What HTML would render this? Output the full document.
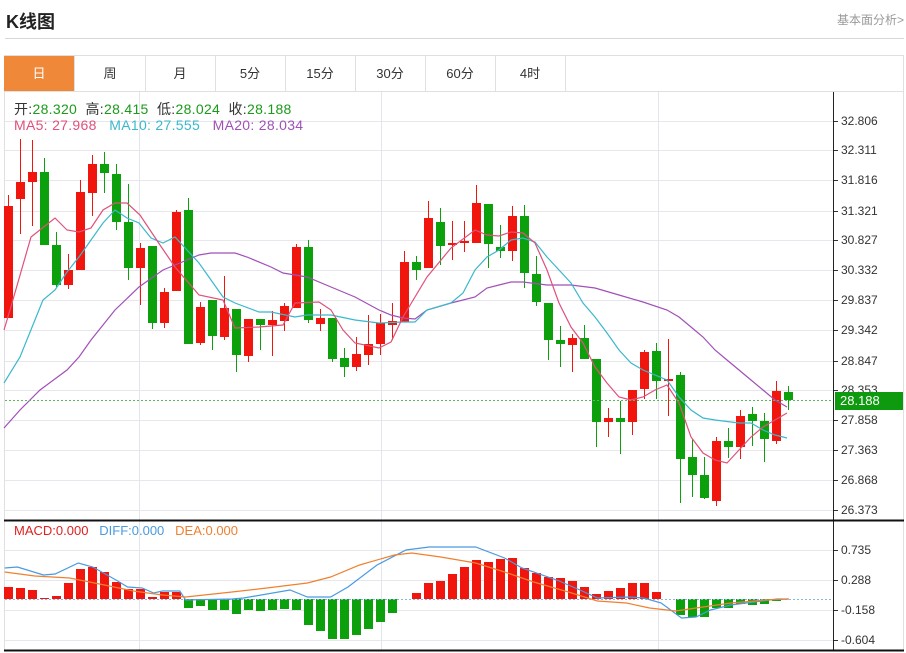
<!DOCTYPE html>
<html><head><meta charset="utf-8"><style>
body{margin:0;width:906px;height:653px;background:#fff;overflow:hidden;font-family:"Liberation Sans","Noto Sans CJK SC",sans-serif;position:relative}
.a{position:absolute;white-space:nowrap}
.tab{position:absolute;top:56px;height:35px;width:70px;line-height:35px;text-align:center;font-size:13px;color:#333;border-right:1px solid #e0e0e0}
.yl{position:absolute;left:841px;font-size:12px;color:#333}
</style></head><body>
<div class="a" style="left:6px;top:8px;font-size:18px;font-weight:bold;color:#222">K线图</div>
<div class="a" style="right:2px;top:11px;font-size:12px;color:#999">基本面分析&gt;</div>
<div class="a" style="left:5px;top:38px;width:899px;height:1px;background:#d8d8d8"></div>
<div class="a" style="left:4px;top:55px;width:900px;height:596px;border:1px solid #e0e0e0;box-sizing:border-box"></div>
<div class="a" style="left:4px;top:91px;width:900px;height:1px;background:#e0e0e0"></div>
<div class="tab" style="left:4px;background:#f0883a;color:#fff">日</div>
<div class="tab" style="left:75px">周</div>
<div class="tab" style="left:145px">月</div>
<div class="tab" style="left:215px">5分</div>
<div class="tab" style="left:285px">15分</div>
<div class="tab" style="left:355px">30分</div>
<div class="tab" style="left:425px">60分</div>
<div class="tab" style="left:495px">4时</div>
<svg id="s" class="a" style="left:0;top:0" width="906" height="653"></svg>
<div class="a" style="left:14px;top:99px;font-size:14px;color:#333;letter-spacing:0.3px">开:<span style="color:#1a9a1a">28.320</span>&nbsp;&nbsp;高:<span style="color:#1a9a1a">28.415</span>&nbsp;&nbsp;低:<span style="color:#1a9a1a">28.024</span>&nbsp;&nbsp;收:<span style="color:#1a9a1a">28.188</span></div>
<div class="a" style="left:14px;top:117px;font-size:14px;letter-spacing:0.3px"><span style="color:#e0507a">MA5: 27.968</span>&nbsp;&nbsp;&nbsp;<span style="color:#3ab8cc">MA10: 27.555</span>&nbsp;&nbsp;&nbsp;<span style="color:#a050b8">MA20: 28.034</span></div>
<div class="a" style="left:14px;top:523px;font-size:13px"><span style="color:#e02020">MACD:0.000</span>&nbsp;&nbsp;&nbsp;<span style="color:#4a9ae0">DIFF:0.000</span>&nbsp;&nbsp;&nbsp;<span style="color:#f08030">DEA:0.000</span></div>
<div class="yl" style="top:114px">32.806</div>
<div class="yl" style="top:143px">32.311</div>
<div class="yl" style="top:173px">31.816</div>
<div class="yl" style="top:204px">31.321</div>
<div class="yl" style="top:233px">30.827</div>
<div class="yl" style="top:263px">30.332</div>
<div class="yl" style="top:293px">29.837</div>
<div class="yl" style="top:323px">29.342</div>
<div class="yl" style="top:354px">28.847</div>
<div class="yl" style="top:383px">28.353</div>
<div class="yl" style="top:413px">27.858</div>
<div class="yl" style="top:443px">27.363</div>
<div class="yl" style="top:473px">26.868</div>
<div class="yl" style="top:503px">26.373</div>
<div class="a" style="left:835px;top:392px;width:68px;height:18px;background:#0e9a0e;color:#fff;font-size:13px;line-height:18px;padding-left:5px;box-sizing:border-box">28.188</div>
<div class="yl" style="top:543px">0.735</div>
<div class="yl" style="top:573px">0.288</div>
<div class="yl" style="top:603px">-0.158</div>
<div class="yl" style="top:633px">-0.604</div>
<script>
var s=document.getElementById('s'),h='';
function L(x1,y1,x2,y2,c,w,d){h+='<line x1="'+x1+'" y1="'+y1+'" x2="'+x2+'" y2="'+y2+'" stroke="'+c+'" stroke-width="'+(w||1)+'"'+(d?' stroke-dasharray="'+d+'"':'')+'/>';}
[121,150,180,211,240,270,300,330,361,390,420,450,480,510,550,580,610,640].forEach(function(y){L(5,y+.5,833,y+.5,'#e6e6ec');L(833,y+.5,838,y+.5,'#333');});
[139.5,381.5,658.5].forEach(function(x){L(x,92,x,651,'#e2e4ee');});
L(833.5,92,833.5,651,'#222');L(4,520.5,904,520.5,'#111',2);L(4,650.5,904,650.5,'#111',2);
var R='#f0160e',G='#0da00d';
var c=[['r',206,318,195,318],['r',182,199,139,234],['r',172,182,140,226],['g',172,245,158,245],['g',245,285,232,287],['r',270,285,254,289],['r',192,270,180,270],['r',164,193,155,216],['g',164,173,152,193],['g',174,222,164,230],['g',222,268,184,280],['r',248,268,243,305],['g',246,323,246,329],['r',292,323,288,328],['r',212,291,210,291],['g',210,344,198,344],['r',307,343,302,345],['g',300,336,300,350],['r',308,337,276,340],['g',309,355,309,372],['r',319,356,319,362],['g',319,325,319,350],['r',320,325,311,356],['r',306,321,303,331],['r',247,308,244,308],['g',247,320,240,323],['r',318,324,309,331],['g',318,359,318,362],['g',358,367,348,377],['r',354,367,337,371],['r',344,355,315,365],['r',323,344,314,355],['r',321,325,303,340],['r',262,322,251,322],['g',262,270,256,280],['r',218,268,201,268],['g',222,246,208,265],['r',243,245,221,260],['r',241,243,221,252],['r',203,243,185,243],['g',204,244,204,268],['g',247,251,225,258],['r',216,251,206,261],['g',216,273,205,288],['g',274,302,256,306],['g',303,340,303,360],['g',340,344,326,367],['r',338,345,334,372],['g',338,359,325,359],['g',359,422,359,447],['r',418,422,408,437],['g',418,422,401,454],['r',390,422,390,435],['r',352,389,350,399],['g',351,381,343,399],['r',379,381,339,416],['g',375,459,372,503],['g',457,475,439,497],['g',475,498,457,499],['r',441,501,437,506],['g',441,447,428,458],['r',416,447,410,459],['g',414,421,407,446],['g',421,439,413,462],['r',391,441,381,444],['g',392,400,386,410]];
function X(i){return 8+i*12;}
c.forEach(function(d,i){var col=d[0]=='r'?R:G,x=X(i);L(x+.5,d[3],x+.5,d[4],col);h+='<rect x="'+(x-4)+'" y="'+d[1]+'" width="9" height="'+Math.max(2,d[2]-d[1])+'" fill="'+col+'"/>';});
function P(pts,col){h+='<polyline fill="none" stroke="'+col+'" stroke-width="1.2" points="'+pts.map(function(p){return p.join(',')}).join(' ')+'"/>';}
P([[4,428],[20,410],[40,390],[67,370],[79,357],[91,340],[115,310],[139,287],[163,270],[187,260],[199,255],[211,253],[235,253],[247,257],[271,267],[283,273],[307,277],[331,287],[355,297],[379,310],[391,315],[403,318],[415,319],[427,310],[451,303],[475,297],[487,288],[499,285],[511,282],[523,282],[547,285],[571,285],[595,288],[619,295],[643,302],[667,310],[679,317],[691,327],[703,337],[715,350],[727,360],[739,370],[751,380],[763,390],[775,400],[787,407]],'#a050b8');
P([[4,383],[20,357],[43,300],[55,290],[67,272],[79,257],[91,240],[103,223],[115,210],[127,218],[139,223],[151,238],[163,243],[175,237],[187,250],[199,263],[211,280],[223,297],[235,303],[259,312],[271,312],[295,317],[307,315],[331,315],[355,320],[379,323],[403,322],[415,322],[427,310],[451,303],[463,293],[475,270],[487,257],[499,250],[511,240],[523,238],[535,242],[547,257],[559,270],[571,283],[583,303],[595,317],[607,333],[619,350],[631,363],[643,370],[655,375],[667,380],[679,397],[691,410],[703,418],[715,420],[739,423],[751,423],[763,430],[775,435],[787,438]],'#3ab8cc');
P([[4,330],[10,310],[31,237],[55,218],[67,230],[79,232],[91,228],[103,210],[115,203],[127,203],[140,215],[160,245],[175,267],[199,295],[223,300],[235,328],[259,327],[283,325],[295,303],[319,302],[331,310],[343,330],[355,343],[379,348],[391,342],[403,317],[427,277],[451,248],[475,230],[487,235],[499,236],[511,232],[523,233],[535,243],[547,270],[559,303],[571,327],[583,343],[595,367],[607,383],[619,397],[631,400],[643,397],[655,390],[667,385],[679,403],[691,437],[703,453],[715,460],[727,463],[739,450],[751,437],[763,427],[775,420],[787,413]],'#e0507a');
L(5,400.5,833,400.5,'#5cb85c',1,'2,2');
var m=[587,588,590,598,596,583,569,567,572,582,589,589,597,592,592,608,606,610,610,614,610,611,610,609,610,625,631,639,639,635,629,622,613,599,593,583,581,574,567,560,562,559,558,568,573,577,578,581,587,594,591,588,583,583,592,599,615,617,617,608,608,604,605,604,601,599];
m.forEach(function(y,i){var x=X(i);if(Math.abs(y-599)<1)return;var col=y<599?R:G;h+='<rect x="'+(x-4)+'" y="'+Math.min(y,599)+'" width="9" height="'+Math.abs(y-599)+'" fill="'+col+'"/>';});
L(5,599.5,833,599.5,'#8ab8e0',1,'2,2');
var k=0.58;
P([[8,568],[30,567],[75,575],[95,574],[135,563],[160,567],[200,580],[220,587],[245,588],[265,593],[280,591],[310,591],[320,600],[400,599],[420,598],[500,590],[530,597],[570,597],[600,587],[650,565],[700,550],[740,547],[770,547],[820,547],[870,558],[900,568],[960,580],[1000,590],[1030,598],[1085,597],[1110,598],[1140,603],[1175,618],[1200,617],[1225,610],[1260,605],[1300,602],[1340,599],[1360,599]].map(function(p){return[p[0]*k,p[1]]}),'#4a9ae0');
P([[8,572],[60,576],[120,578],[180,585],[230,591],[280,595],[320,597],[400,592],[460,588],[530,583],[570,577],[620,565],[680,555],[710,553],[760,557],[820,563],[870,572],[920,582],[980,592],[1030,601],[1080,603],[1120,608],[1165,611],[1200,608],[1260,603],[1320,600],[1360,599]].map(function(p){return[p[0]*k,p[1]]}),'#f08030');
s.innerHTML=h;
</script>
</body></html>
